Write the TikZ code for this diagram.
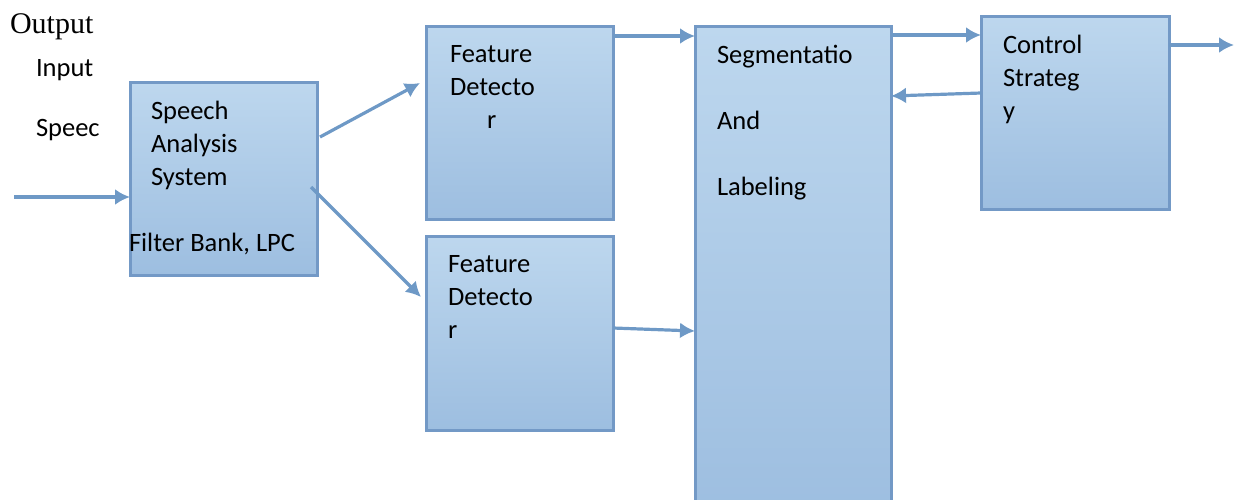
\documentclass[tikz,border=0pt]{standalone}
\usepackage{fontspec}
\setmainfont{Carlito}
\newfontfamily\timesfont{Liberation Serif}
\usetikzlibrary{arrows.meta,calc}
\definecolor{boxtop}{HTML}{BDD7EE}
\definecolor{boxbot}{HTML}{9DBEE0}
\definecolor{boxline}{HTML}{7399C6}
\definecolor{flowcol}{HTML}{6E99C6}

\begin{document}
\begin{tikzpicture}[x=1pt, y=-1pt,
	every node/.style={font=\fontsize{26.5}{33}\selectfont, inner sep=0pt, outer sep=0pt},
	>={Latex[length=15pt,width=16pt]},
	block/.style={draw=boxline, line width=3pt, top color=boxtop, bottom color=boxbot, anchor=north west},
	txt/.style={anchor=base west, align=left},
	flow/.style={->, draw=flowcol, line width=3.2pt}]
	\useasboundingbox (0,0) rectangle (1234,499);
	\node[block, minimum width=187pt, minimum height=193pt] (sas) at (130,82) {};
	\node[block, minimum width=187pt, minimum height=193pt] (fd1) at (426,26) {};
	\node[block, minimum width=187pt, minimum height=194pt] (fd2) at (426,236) {};
	\node[block, minimum width=196pt, minimum height=490pt] (seg) at (695,26) {};
	\node[block, minimum width=188pt, minimum height=193pt] (cs) at (981,16) {};
	\node[txt, font=\fontsize{30}{36}\timesfont] (outp) at (10,33) {Output};
	\node[txt] (inp) at (36,136) {Input\\[27pt]Speec};
	\node[txt] (sastext) at (151,185) {Speech\\Analysis\\System};
	\node[txt] (sasfilt) at (129,251) {Filter Bank, LPC};
	\node[txt] (fd1text) at (450,128) {Feature\\Detecto\\\hspace*{37pt}r};
	\node[txt] (fd2text) at (448,338) {Feature\\Detecto\\r};
	\node[txt] (segtext) at (717,195) {Segmentatio\\[33pt]And\\[33pt]Labeling};
	\node[txt] (cstext) at (1003,119) {Control\\Strateg\\y};
	\coordinate (src) at (14,197);
	\coordinate (sink) at (1234,45);
	\draw[flow] (src) -- ($(sas.north west)+(0,115)$);
	\draw[flow] ($(sas.north east)+(3,55)$) -- ($(fd1.north west)+(-6,57)$);
	\draw[flow] ($(sas.north east)+(-6,105)$) -- ($(fd2.north west)+(-5,61)$);
	\draw[flow] ($(fd1.north east)+(0,10)$) -- ($(seg.north west)+(0,10)$);
	\draw[flow] ($(fd2.north east)+(0,92)$) -- ($(seg.north west)+(0,305)$);
	\draw[flow] ($(seg.north east)+(0,9)$) -- ($(cs.north west)+(0,19)$);
	\draw[flow] ($(cs.north west)+(0,77)$) -- ($(seg.north east)+(0,70)$);
	\draw[flow] ($(cs.north east)+(0,29)$) -- (sink);
\end{tikzpicture}
\end{document}
